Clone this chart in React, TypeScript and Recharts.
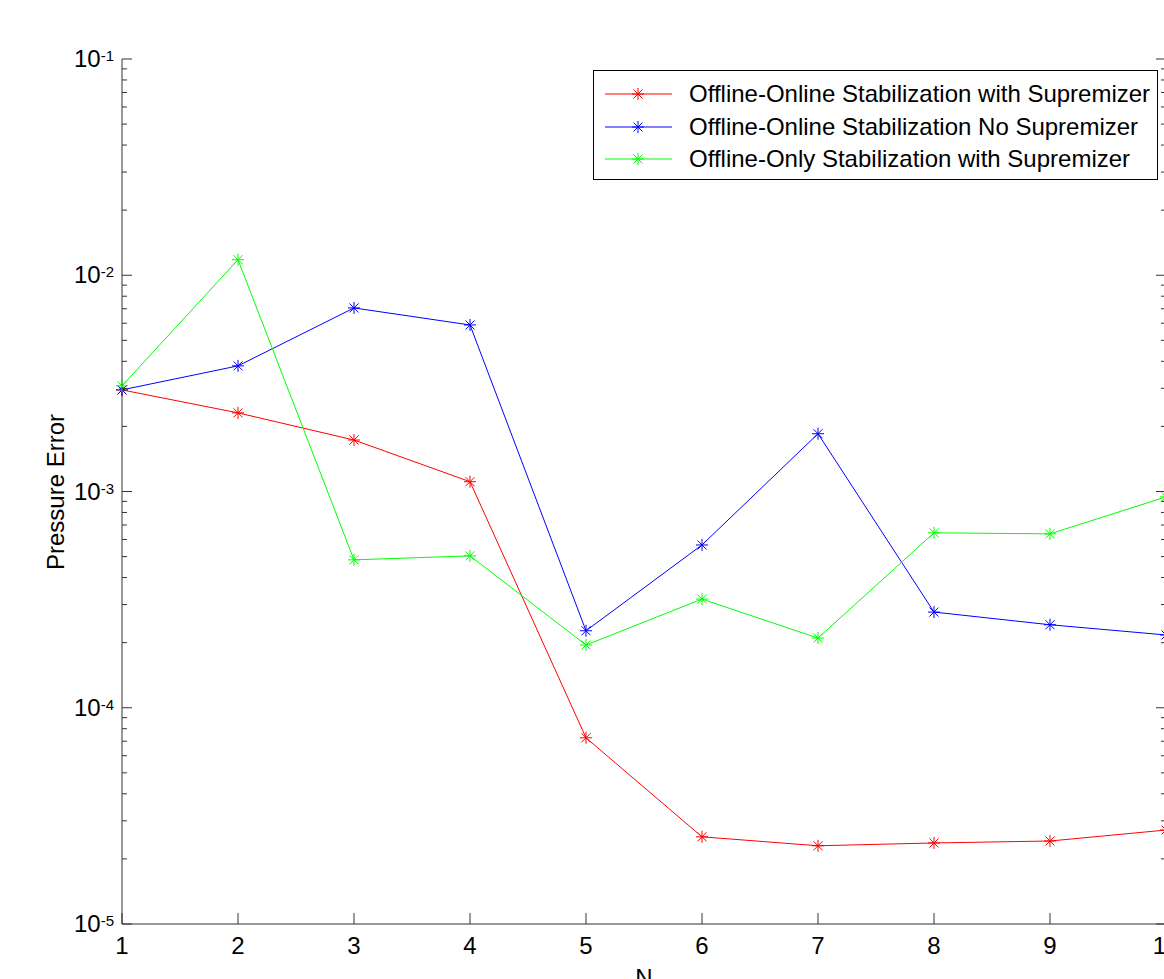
import { Line, LineChart, XAxis, YAxis } from "recharts"

const ns = [1, 2, 3, 4, 5, 6, 7, 8, 9, 10]
const withSupremizer = [2.95e-3, 2.31e-3, 1.73e-3, 1.11e-3, 7.26e-5, 2.53e-5, 2.3e-5, 2.37e-5, 2.42e-5, 2.72e-5]
const noSupremizer = [2.95e-3, 3.81e-3, 7.06e-3, 5.89e-3, 2.27e-4, 5.66e-4, 1.85e-3, 2.77e-4, 2.42e-4, 2.17e-4]
const offlineOnly = [3.08e-3, 1.18e-2, 4.83e-4, 5.04e-4, 1.95e-4, 3.18e-4, 2.1e-4, 6.44e-4, 6.37e-4, 9.44e-4]

const series = [
  { key: "withSup", name: "Offline-Online Stabilization with Supremizer", color: "#ff0000", values: withSupremizer },
  { key: "noSup", name: "Offline-Online Stabilization No Supremizer", color: "#0000ff", values: noSupremizer },
  { key: "offline", name: "Offline-Only Stabilization with Supremizer", color: "#00ff00", values: offlineOnly },
]

const decades = [-5, -4, -3, -2, -1]
const yTicks: number[] = []
decades.forEach((e) => {
  if (e === -1) {
    yTicks.push(Math.pow(10, e))
    return
  }
  for (let m = 1; m <= 9; m++) yTicks.push(m * Math.pow(10, e))
})

const data = ns.map((n, i) => {
  const row: Record<string, number> = { n }
  series.forEach((s) => (row[s.key] = s.values[i]))
  return row
})

const FONT = "'Liberation Sans', Arial, sans-serif"
const AXIS = "#333"

const isMajor = (v: number) => Math.abs(Math.log10(v) - Math.round(Math.log10(v))) < 1e-6

function Asterisk(props: any) {
  const { cx, cy, stroke } = props
  if (cx == null || cy == null) return null
  const r = 6
  const d = 4.5
  return (
    <g stroke={stroke} strokeWidth={1} fill="none">
      <line x1={cx} y1={cy - r} x2={cx} y2={cy + r} />
      <line x1={cx - r} y1={cy} x2={cx + r} y2={cy} />
      <line x1={cx - d} y1={cy - d} x2={cx + d} y2={cy + d} />
      <line x1={cx - d} y1={cy + d} x2={cx + d} y2={cy - d} />
    </g>
  )
}

function LeftTick(props: any) {
  const { x, y, payload } = props
  const v = payload.value
  const major = isMajor(v)
  return (
    <g>
      <line x1={x} y1={y} x2={x + (major ? 10 : 5)} y2={y} stroke={AXIS} />
      {major && (
        <text x={x - 8} y={y + 8} textAnchor="end" fontSize={24} fontFamily={FONT} fill="#000">
          10
          <tspan dy={-6} fontSize={15}>
            {Math.round(Math.log10(v))}
          </tspan>
        </text>
      )}
    </g>
  )
}

function RightTick(props: any) {
  const { x, y, payload } = props
  const major = isMajor(payload.value)
  return <line x1={x} y1={y} x2={x - (major ? 10 : 5)} y2={y} stroke={AXIS} />
}

function BottomTick(props: any) {
  const { x, y, payload } = props
  return (
    <g>
      <line x1={x} y1={y} x2={x} y2={y - 11} stroke={AXIS} />
      <text x={x} y={y + 30} textAnchor="middle" fontSize={24} fontFamily={FONT} fill="#000">
        {payload.value}
      </text>
    </g>
  )
}

function TopTick(props: any) {
  const { x, y } = props
  return <line x1={x} y1={y} x2={x} y2={y + 11} stroke={AXIS} />
}

function LegendBox() {
  return (
    <div
      style={{
        position: "absolute",
        left: 593,
        top: 70,
        width: 565,
        height: 110,
        border: "1px solid #000",
        background: "#fff",
        boxSizing: "border-box",
        fontFamily: FONT,
        fontSize: 24,
      }}
    >
      {series.map((s, i) => (
        <div
          key={s.key}
          style={{ position: "absolute", left: 0, top: 7 + i * 32.5, height: 32, width: "100%" }}
        >
          <svg width={80} height={32} style={{ position: "absolute", left: 11, top: 0 }}>
            <line x1={0} y1={16} x2={67} y2={16} stroke={s.color} strokeWidth={1} />
            <Asterisk cx={33} cy={16} stroke={s.color} />
          </svg>
          <span style={{ position: "absolute", left: 95, top: 0, lineHeight: "32px", whiteSpace: "nowrap", color: "#000" }}>
            {s.name}
          </span>
        </div>
      ))}
    </div>
  )
}

export default function App() {
  return (
    <div
      style={{
        position: "absolute",
        left: 0,
        top: 0,
        width: 1164,
        height: 979,
        overflow: "hidden",
        background: "#fff",
      }}
    >
      <LineChart width={1244} height={979} data={data} margin={{ top: 59, right: 0, bottom: 0, left: 0 }}>
        <XAxis
          dataKey="n"
          type="number"
          domain={[1, 10]}
          ticks={ns}
          interval={0}
          height={55}
          tickSize={0}
          tickMargin={0}
          stroke={AXIS}
          tick={<BottomTick />}
          label={() => (
            <text x={644} y={986} textAnchor="middle" fontSize={24} fontFamily={FONT} fill="#000">
              N
            </text>
          )}
        />
        <XAxis
          xAxisId="top"
          orientation="top"
          dataKey="n"
          type="number"
          domain={[1, 10]}
          ticks={ns}
          interval={0}
          height={0}
          tickSize={0}
          tickMargin={0}
          stroke={AXIS}
          tick={<TopTick />}
        />
        <YAxis
          scale="log"
          type="number"
          domain={[1e-5, 1e-1]}
          allowDataOverflow
          ticks={yTicks}
          interval={0}
          width={122}
          tickSize={0}
          tickMargin={0}
          stroke={AXIS}
          tick={<LeftTick />}
          label={() => (
            <text
              x={55}
              y={492}
              transform="rotate(-90 55 492)"
              textAnchor="middle"
              dominantBaseline="central"
              fontSize={24}
              fontFamily={FONT}
              fill="#000"
            >
              Pressure Error
            </text>
          )}
        />
        <YAxis
          yAxisId="right"
          orientation="right"
          scale="log"
          type="number"
          domain={[1e-5, 1e-1]}
          allowDataOverflow
          ticks={yTicks}
          interval={0}
          width={78}
          tickSize={0}
          tickMargin={0}
          stroke={AXIS}
          tick={<RightTick />}
        />
        {series.map((s) => (
          <Line
            key={s.key}
            type="linear"
            dataKey={s.key}
            name={s.name}
            stroke={s.color}
            strokeWidth={1}
            dot={<Asterisk />}
            activeDot={false}
            isAnimationActive={false}
          />
        ))}
      </LineChart>
      <LegendBox />
    </div>
  )
}
